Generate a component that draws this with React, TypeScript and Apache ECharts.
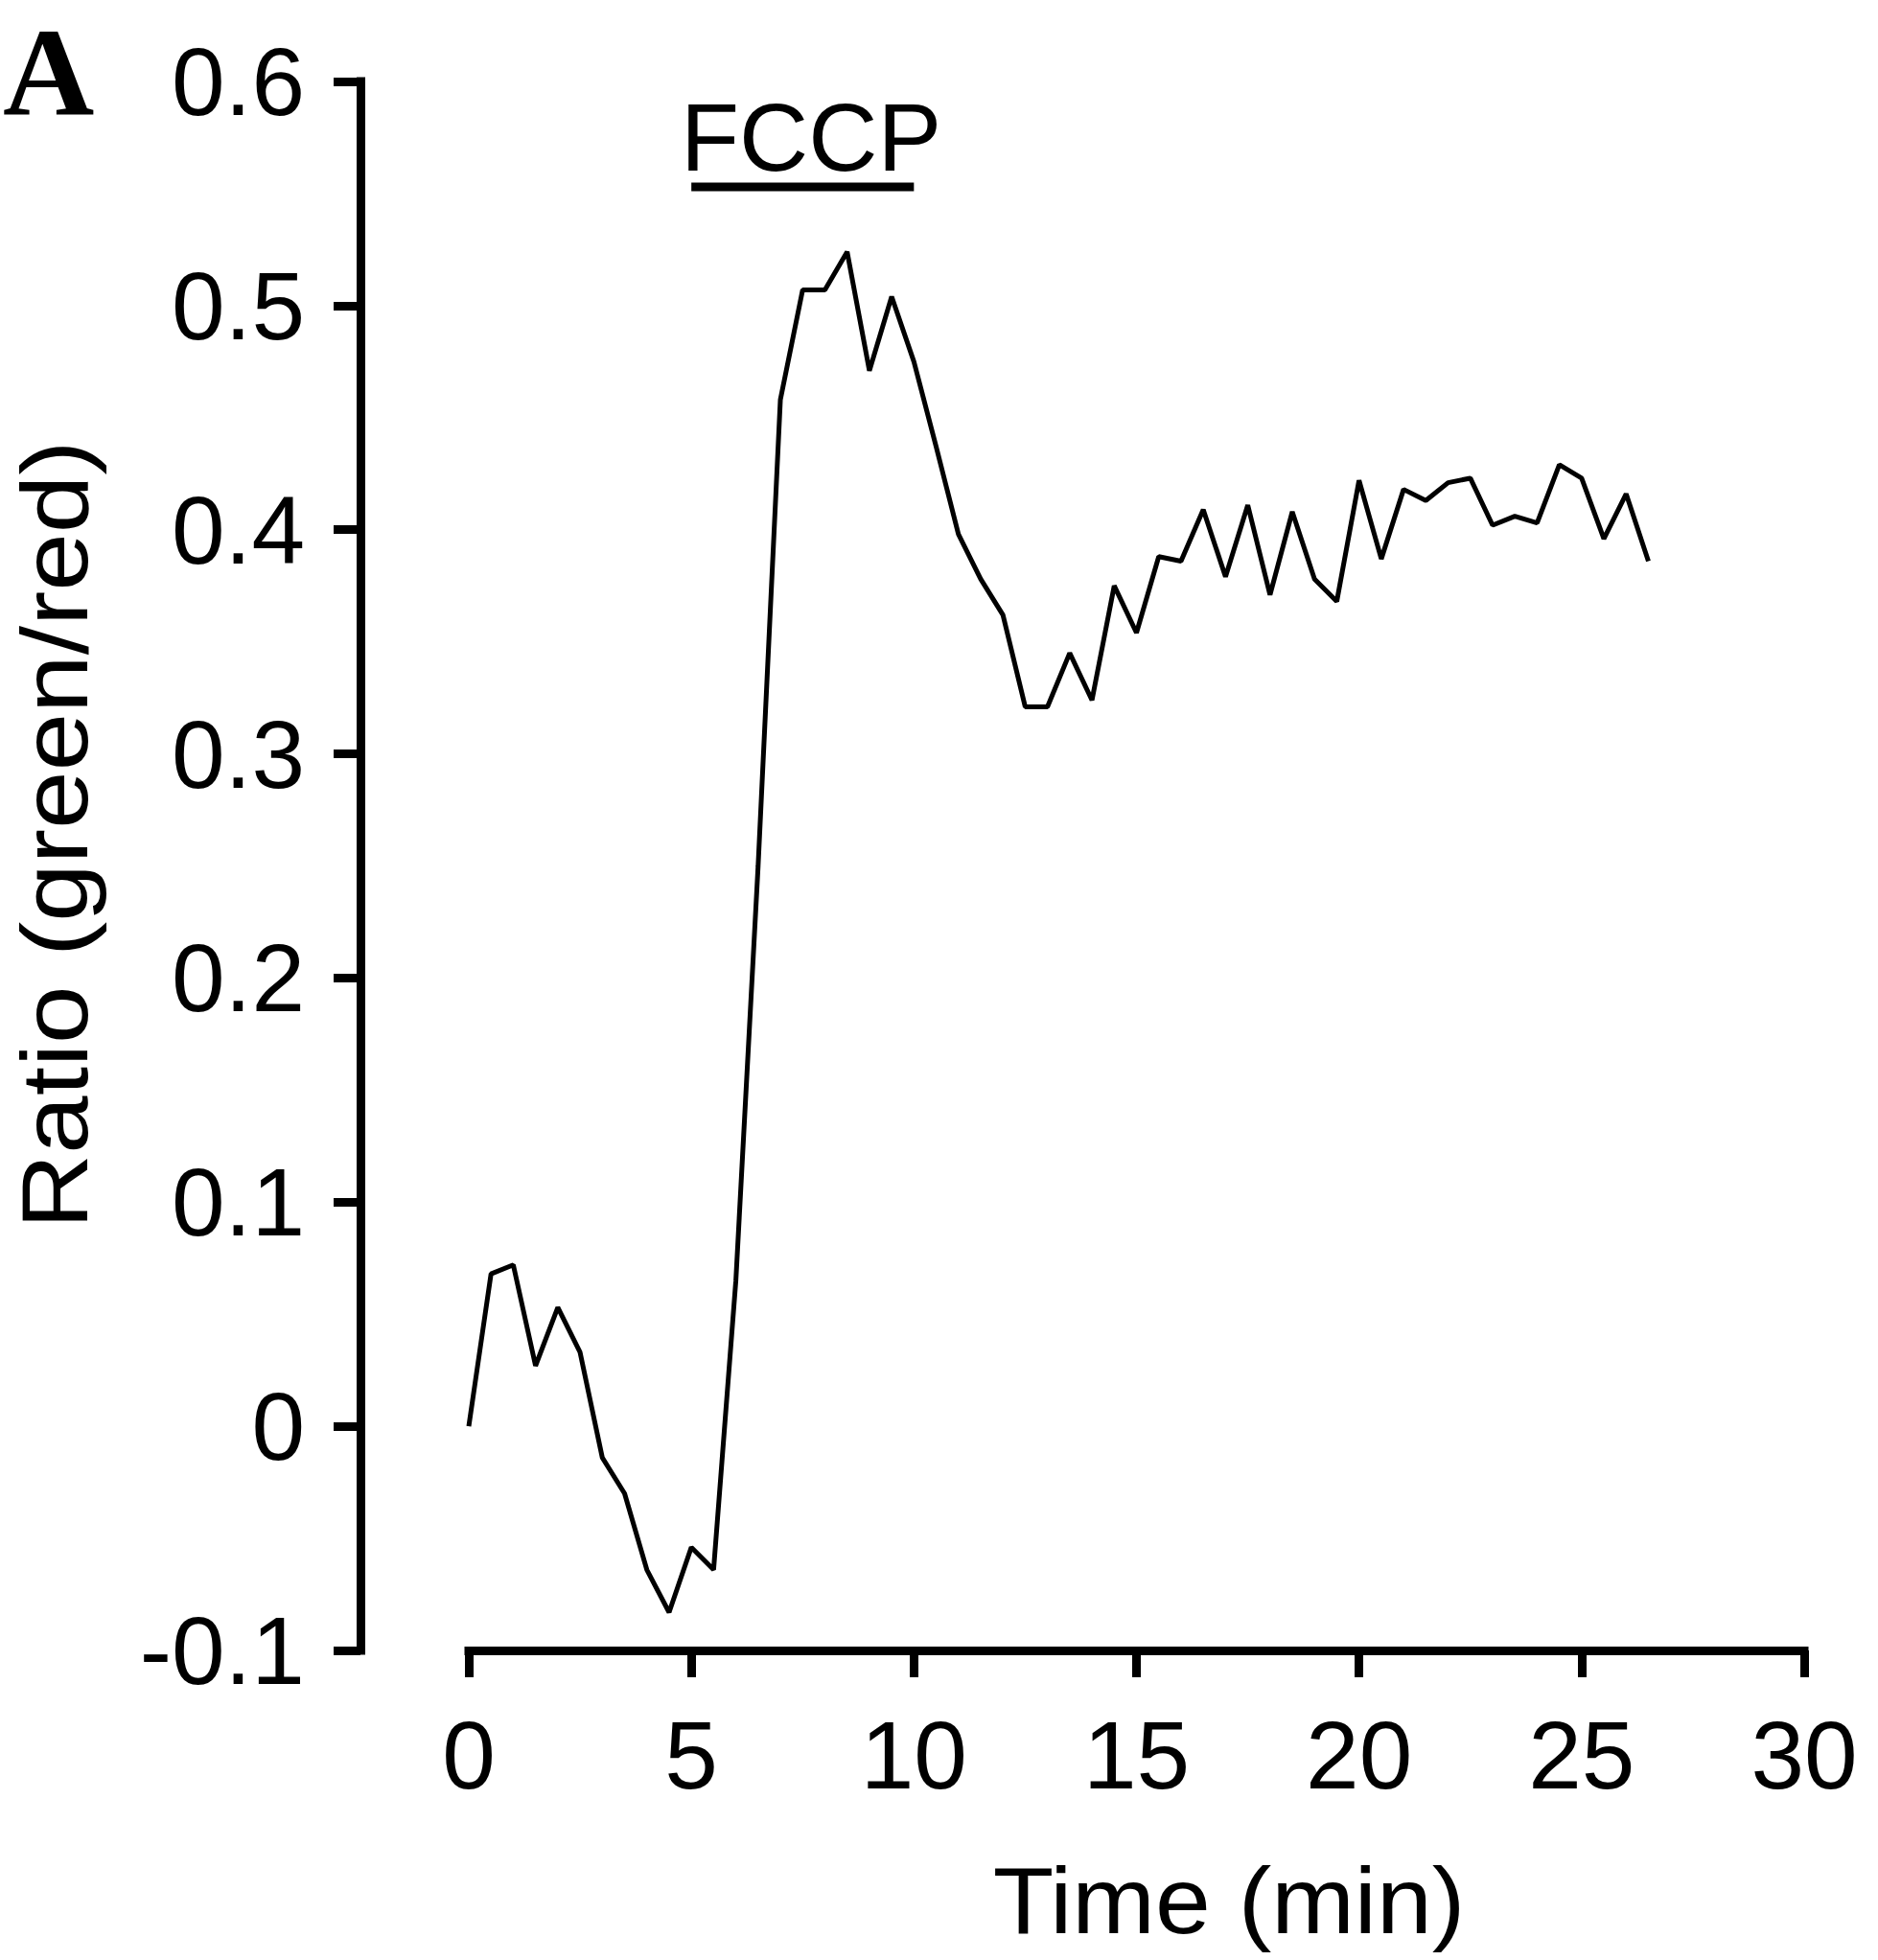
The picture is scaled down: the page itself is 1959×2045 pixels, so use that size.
import React, { useEffect, useRef } from "react";
import * as echarts from "echarts";

// Time points (min)
const timeMin = [
  0, 0.5, 1, 1.5, 2, 2.5, 3, 3.5, 4, 4.5, 5, 5.5, 6, 6.5, 7, 7.5, 8, 8.5, 9,
  9.5, 10, 10.5, 11, 11.5, 12, 12.5, 13, 13.5, 14, 14.5, 15, 15.5, 16, 16.5,
  17, 17.5, 18, 18.5, 19, 19.5, 20, 20.5, 21, 21.5, 22, 22.5, 23, 23.5, 24,
  24.5, 25, 25.5, 26, 26.5,
];

// Ratio (green/red)
const ratio = [
  0.0, 0.068, 0.072, 0.027, 0.053, 0.033, -0.014, -0.03, -0.064, -0.083,
  -0.054, -0.064, 0.065, 0.25, 0.458, 0.507, 0.507, 0.524, 0.471, 0.504,
  0.475, 0.437, 0.398, 0.378, 0.362, 0.321, 0.321, 0.345, 0.324, 0.375,
  0.354, 0.388, 0.386, 0.409, 0.379, 0.411, 0.371, 0.408, 0.378, 0.368,
  0.422, 0.387, 0.418, 0.413, 0.421, 0.423, 0.402, 0.406, 0.403, 0.429,
  0.423, 0.396, 0.416, 0.386,
];

// FCCP application window (min) and the level of its bar
const fccpWindow = [5, 10];
const fccpLevel = 0.553;

const xTicks = { min: 0, max: 30, interval: 5 };
const yTicks = { min: -0.1, max: 0.6, interval: 0.1 };

const SANS = '"Liberation Sans", Arial, Helvetica, sans-serif';

export default function App() {
  const ref = useRef<HTMLDivElement>(null);

  useEffect(() => {
    if (!ref.current) return;
    const chart = echarts.init(ref.current, null, { renderer: "svg" });
    const axisLine = { show: true, onZero: false, lineStyle: { color: "#000", width: 9, cap: "square" } };
    const axisTick = { show: true, length: 28, lineStyle: { color: "#000", width: 9 } };
    chart.setOption({
      animation: false,
      backgroundColor: "#ffffff",
      grid: { left: 489, right: 77, top: 85, bottom: 323, containLabel: false },
      xAxis: {
        type: "value",
        min: xTicks.min,
        max: xTicks.max,
        interval: xTicks.interval,
        axisLine,
        axisTick,
        splitLine: { show: false },
        axisLabel: {
          margin: 59,
          fontSize: 100,
          fontFamily: SANS,
          color: "#000",
          showMinLabel: true,
          showMaxLabel: true,
        },
      },
      yAxis: {
        type: "value",
        min: yTicks.min,
        max: yTicks.max,
        interval: yTicks.interval,
        offset: 113,
        axisLine,
        axisTick,
        splitLine: { show: false },
        axisLabel: {
          margin: 58,
          fontSize: 100,
          fontFamily: SANS,
          color: "#000",
          showMinLabel: true,
          showMaxLabel: true,
          formatter: (v: number) => String(Math.round(v * 10) / 10),
        },
      },
      series: [
        {
          type: "line",
          data: timeMin.map((t, i) => [t, ratio[i]]),
          symbol: "none",
          silent: true,
          lineStyle: { color: "#000", width: 5 },
          z: 3,
        },
        {
          type: "line",
          data: fccpWindow.map((t) => [t, fccpLevel]),
          symbol: "none",
          silent: true,
          lineStyle: { color: "#000", width: 9, cap: "butt" },
          z: 3,
        },
      ],
      graphic: [
        {
          type: "text",
          x: 3,
          y: 75,
          style: {
            text: "A",
            font: 'bold 132px "Liberation Serif", "Times New Roman", serif',
            fill: "#000",
            align: "left",
            verticalAlign: "middle",
          },
        },
        {
          type: "text",
          x: 846,
          y: 143,
          style: {
            text: "FCCP",
            font: `100px ${SANS}`,
            fill: "#000",
            align: "center",
            verticalAlign: "middle",
          },
        },
        {
          type: "text",
          x: 1282,
          y: 1983,
          scaleX: 1.05,
          style: {
            text: "Time (min)",
            font: `99px ${SANS}`,
            fill: "#000",
            align: "center",
            verticalAlign: "middle",
          },
        },
        {
          type: "text",
          x: 57,
          y: 871,
          rotation: Math.PI / 2,
          scaleX: 1.1,
          style: {
            text: "Ratio (green/red)",
            font: `99px ${SANS}`,
            fill: "#000",
            align: "center",
            verticalAlign: "middle",
          },
        },
      ],
    });
    return () => chart.dispose();
  }, []);

  return (
    <div
      ref={ref}
      style={{ position: "absolute", left: 0, top: 0, width: 1959, height: 2045, background: "#fff" }}
    />
  );
}
